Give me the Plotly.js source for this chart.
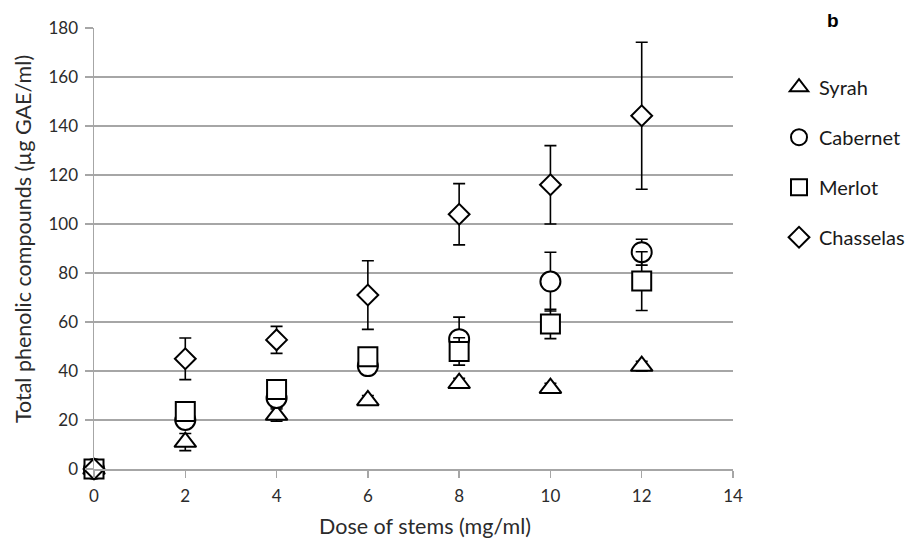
<!DOCTYPE html>
<html>
<head>
<meta charset="utf-8">
<script src="https://cdn.plot.ly/plotly-3.0.1.min.js"></script>
<style>html,body{margin:0;padding:0;background:#fff;}#chart{width:909px;height:539px;}</style>
</head>
<body>
<div id="chart"></div>
<script>
var doses = [0, 2, 4, 6, 8, 10, 12];
var syrah = [0, 11, 22, 28, 35, 33, 42];
var syrahErr = [0, 3.5, 2.5, 2, 2, 2, 2];
var cabernet = [0, 20, 29, 42, 53, 76.5, 88.5];
var cabernetErr = [0, 3, 4, 2, 9, 12, 5.3];
var merlot = [0, 23.5, 32.4, 45.8, 48, 59.2, 76.7];
var merlotErr = [0, 2, 2, 2, 5.6, 6, 12];
var chasselas = [0, 45, 52.7, 71, 104, 116, 144.2];
var chasselasErr = [0, 8.5, 5.5, 14, 12.5, 16, 30];

var seriesNames = ['Syrah', 'Cabernet', 'Merlot', 'Chasselas'];
var seriesValues = [syrah, cabernet, merlot, chasselas];
var seriesErrors = [syrahErr, cabernetErr, merlotErr, chasselasErr];
var symbols = ['triangle-up', 'circle', 'square', 'diamond'];
var sizes = [19, 20, 19, 16];

var xTitle = 'Dose of stems (mg/ml)';
var yTitle = 'Total phenolic compounds (µg GAE/ml)';

var traces = seriesNames.map(function (name, i) {
  return {
    x: doses,
    y: seriesValues[i],
    name: name,
    legendgroup: name,
    type: 'scatter',
    mode: 'markers',
    cliponaxis: false,
    marker: {symbol: symbols[i], size: sizes[i], color: '#ffffff', line: {color: '#000000', width: 2}},
    error_y: {type: 'data', array: seriesErrors[i], visible: true, color: '#000000', thickness: 1.6, width: 6}
  };
});

var gridCol = '#a6a6a6';
var textCol = '#2b2b2b';
var layout = {
  width: 909,
  height: 539,
  margin: {l: 94, r: 176, t: 28, b: 70, autoexpand: false},
  paper_bgcolor: '#ffffff',
  plot_bgcolor: '#ffffff',
  font: {family: 'Lato, "Open Sans", sans-serif', color: textCol, size: 17},
  showlegend: true,
  legend: {
    x: 1.072, xanchor: 'left', y: 0.91, yanchor: 'top',
    font: {size: 20, color: '#1a1a1a'},
    tracegroupgap: 21,
    bgcolor: 'rgba(0,0,0,0)'
  },
  xaxis: {
    range: [0, 14],
    dtick: 2,
    tick0: 0,
    showgrid: false,
    showline: true,
    linecolor: gridCol,
    linewidth: 1.5,
    ticks: 'outside',
    ticklen: 7,
    tickcolor: gridCol,
    tickwidth: 1.5,
    zeroline: false,
    tickfont: {size: 17},
    ticklabelstandoff: 4,
    automargin: false
  },
  yaxis: {
    range: [0, 180],
    dtick: 20,
    tick0: 0,
    showgrid: true,
    gridcolor: gridCol,
    gridwidth: 1.5,
    showline: true,
    linecolor: gridCol,
    linewidth: 1.5,
    ticks: 'outside',
    ticklen: 8,
    tickcolor: gridCol,
    tickwidth: 1.5,
    zeroline: false,
    tickfont: {size: 17},
    ticklabelstandoff: 3,
    automargin: false
  },
  annotations: [{
    xref: 'paper', yref: 'paper', x: 1.1565, y: 1.018,
    xanchor: 'center', yanchor: 'middle', showarrow: false,
    text: '<b>b</b>',
    font: {family: '"Liberation Sans", Arial, sans-serif', size: 19, color: '#000000'}
  }, {
    xref: 'paper', yref: 'paper', x: 0.518, y: -0.129,
    xanchor: 'center', yanchor: 'middle', showarrow: false,
    text: xTitle, font: {size: 21.5, color: textCol}
  }, {
    xref: 'paper', yref: 'paper', x: -0.111, y: 0.5215,
    xanchor: 'center', yanchor: 'middle', showarrow: false, textangle: -90,
    text: yTitle, font: {size: 21.5, color: textCol}
  }]
};

Plotly.newPlot('chart', traces, layout, {displayModeBar: false, staticPlot: true});
</script>
</body>
</html>
